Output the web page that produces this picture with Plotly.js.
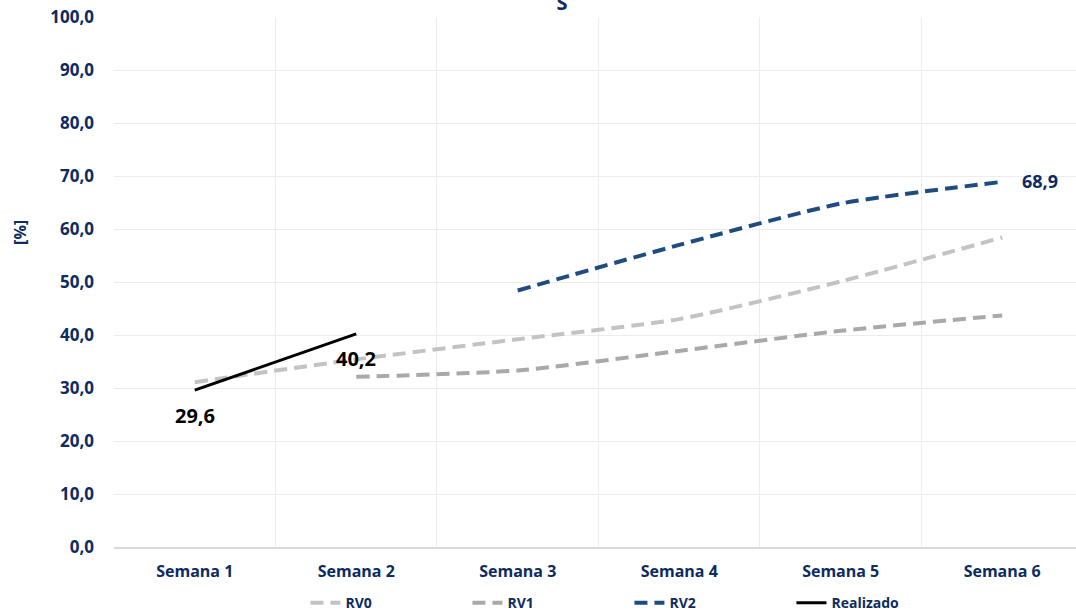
<!DOCTYPE html>
<html>
<head>
<meta charset="utf-8">
<script src="https://cdn.plot.ly/plotly-3.0.1.min.js"></script>
<style>html,body{margin:0;padding:0;overflow:hidden;background:#fff;}</style>
</head>
<body>
<div id="chart" style="width:1076px;height:614px;"></div>
<script>
const categories = ['Semana 1','Semana 2','Semana 3','Semana 4','Semana 5','Semana 6'];
const rv0 = [31.1, 35.4, 39.2, 43.0, 50.1, 58.4];
const rv1 = [null, 32.1, 33.3, 37.0, 40.8, 43.7];
const rv2 = [null, null, 48.4, 57.0, 64.8, 68.9];
const realizado = [29.6, 40.2, null, null, null, null];
const yTicks = [0,10,20,30,40,50,60,70,80,90,100];

const navy = '#0c2b63';
const fmt = v => v.toFixed(1).replace('.', ',');
const fontFam = '"Open Sans", "Liberation Sans", sans-serif';

const lastIdx = arr => { let k = -1; arr.forEach((v,i)=>{ if (v!==null) k=i; }); return k; };

const traces = [
  {x: categories, y: rv0, name: 'RV0', type: 'scatter', mode: 'lines',
   line: {color: '#c3c3c3', width: 4, dash: '13px,7px', shape: 'spline', smoothing: 0.6}, hoverinfo: 'skip'},
  {x: categories, y: rv1, name: 'RV1', type: 'scatter', mode: 'lines',
   line: {color: '#a9a9a9', width: 4, dash: '13px,7px', shape: 'spline', smoothing: 0.6}, hoverinfo: 'skip'},
  {x: categories, y: rv2, name: 'RV2', type: 'scatter', mode: 'lines',
   line: {color: '#1f4c80', width: 4, dash: '13px,7px', shape: 'spline', smoothing: 0.6}, hoverinfo: 'skip'},
  {x: categories, y: realizado, name: 'Realizado', type: 'scatter', mode: 'lines',
   line: {color: '#000000', width: 3}, hoverinfo: 'skip'}
];

const labelAnns = [];
realizado.forEach((v, i) => {
  if (v !== null) labelAnns.push({
    x: categories[i], y: v, xref: 'x', yref: 'y', text: fmt(v), showarrow: false,
    xanchor: 'center', yanchor: 'middle', yshift: -25,
    font: {family: fontFam, size: 20, color: '#000000', weight: 'bold'}
  });
});
const k2 = lastIdx(rv2);
labelAnns.push({
  x: categories[k2], y: rv2[k2], xref: 'x', yref: 'y', text: fmt(rv2[k2]), showarrow: false,
  xanchor: 'left', yanchor: 'middle', xshift: 18, yshift: 1,
  font: {family: fontFam, size: 18, color: navy, weight: 'bold'}
});

const layout = {
  width: 1076, height: 614,
  margin: {l: 114, r: 0, t: 17, b: 67, pad: 0, autoexpand: false},
  paper_bgcolor: '#ffffff', plot_bgcolor: '#ffffff',
  separators: ',.',
  font: {family: fontFam, color: navy, weight: 'bold'},
  title: {text: 'S', x: 562/1076, xanchor: 'center', xref: 'container', y: 0.995, yanchor: 'middle', yref: 'container',
          font: {family: fontFam, size: 20, color: navy, weight: 'bold'}},
  xaxis: {
    type: 'category', range: [-0.5, 5.457], tickson: 'boundaries',
    showgrid: true, gridcolor: '#ececec', gridwidth: 1,
    showline: true, linecolor: '#d9d9d9', linewidth: 2,
    ticks: '', tickfont: {family: fontFam, size: 16, color: navy, weight: 'bold'},
    ticklabelstandoff: 9, zeroline: false, fixedrange: true
  },
  yaxis: {
    range: [0, 100], tickvals: yTicks, ticktext: yTicks.map(fmt),
    showgrid: true, gridcolor: '#ececec', gridwidth: 1,
    showline: false, zeroline: false, ticks: '',
    tickfont: {family: fontFam, size: 17, color: navy, weight: 'bold'},
    ticklabelstandoff: 19, fixedrange: true
  },
  annotations: [{
    text: '[%]', textangle: -90, xref: 'paper', yref: 'paper',
    x: -0.098, y: 0.594, xanchor: 'center', yanchor: 'middle', showarrow: false,
    font: {family: fontFam, size: 16, color: navy, weight: 'bold'}
  }].concat(labelAnns),
  showlegend: true,
  legend: {
    orientation: 'h', x: 0.199, xanchor: 'left', y: -0.106, yanchor: 'middle',
    entrywidth: 117, entrywidthmode: 'pixels',
    font: {family: fontFam, size: 14, color: navy, weight: 'bold'},
    bgcolor: 'rgba(0,0,0,0)'
  }
};

Plotly.newPlot('chart', traces, layout, {displayModeBar: false, staticPlot: true});
</script>
</body>
</html>
